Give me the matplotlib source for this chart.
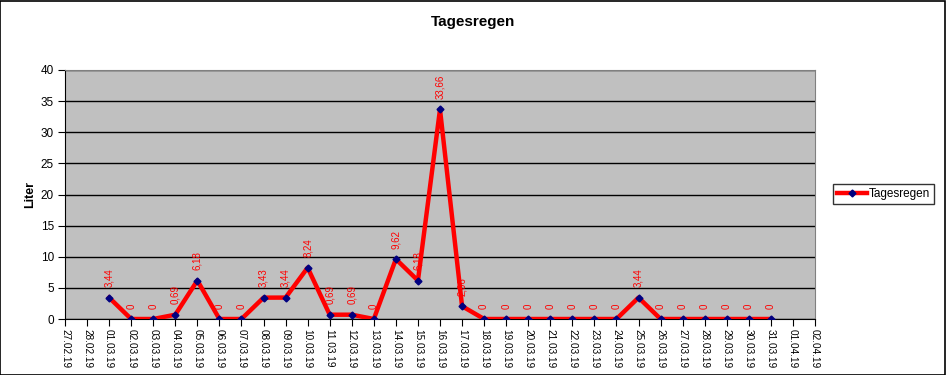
import numpy as np
import matplotlib
matplotlib.use('Agg')
import matplotlib.pyplot as plt
from matplotlib.patches import Rectangle

plt.rcParams['font.family'] = ['Liberation Sans', 'DejaVu Sans']

dates = ['27.02.19', '28.02.19'] + ['%02d.03.19' % d for d in range(1, 32)] + ['01.04.19', '02.04.19']
nan = np.nan
# rain per day, 01.03 .. 31.03 (no values for the outer dates)
rain = [nan, nan,
        3.44, 0, 0, 0.69, 6.18, 0, 0, 3.43, 3.44, 8.24,
        0.69, 0.69, 0, 9.62, 6.18, 33.66, 2.06, 0, 0, 0,
        0, 0, 0, 0, 3.44, 0, 0, 0, 0, 0, 0,
        nan, nan]

fig = plt.figure(figsize=(9.46, 3.75), dpi=100)
fig.patches.append(Rectangle((0.0005, 0.001), 0.998, 0.997, transform=fig.transFigure,
                             fill=False, edgecolor='black', linewidth=1.2))
ax = fig.add_axes([65 / 946, 56 / 375, 750 / 946, 249 / 375])
ax.set_facecolor('#C0C0C0')

x = np.arange(len(dates))
ax.plot(x, rain, color='red', linewidth=3.2, marker='D', markersize=3.5,
        markerfacecolor='#000080', markeredgecolor='#000080', label='Tagesregen', zorder=3)

for xi, v in zip(x, rain):
    if np.isnan(v):
        continue
    ax.annotate(('%g' % v).replace('.', ','), (xi, v), xytext=(0, 7.5), textcoords='offset points',
                rotation=90, ha='center', va='bottom', color='red', fontsize=7, zorder=4)

ax.set_xlim(0, len(dates) - 1)
ax.set_ylim(0, 40)
ax.set_yticks(range(0, 41, 5))
ax.set_xticks(x)
ax.set_xticklabels(dates, rotation=270, fontsize=7.2)
ax.tick_params(axis='y', labelsize=8.5, length=5, direction='out', pad=3)
ax.tick_params(axis='x', length=5, direction='out', pad=2)
ax.grid(axis='y', color='black', linewidth=1)
ax.set_axisbelow(True)
for s in ['top', 'right']:
    ax.spines[s].set_color('#808080')
for s in ['left', 'bottom']:
    ax.spines[s].set_color('black')

ax.set_ylabel('Liter', fontsize=9, fontweight='bold', labelpad=3)
fig.text(473 / 946, 1 - 22 / 375, 'Tagesregen', ha='center', va='center',
         fontsize=11, fontweight='bold')

leg = ax.legend(loc='center left', bbox_to_anchor=(833 / 946, 1 - 194 / 375),
                bbox_transform=fig.transFigure, fontsize=8.5, frameon=True,
                fancybox=False, edgecolor='black', borderpad=0.3, handlelength=2.6,
                handletextpad=0.15, borderaxespad=0)
leg.get_frame().set_linewidth(1)

fig.savefig('out.png', dpi=100)
